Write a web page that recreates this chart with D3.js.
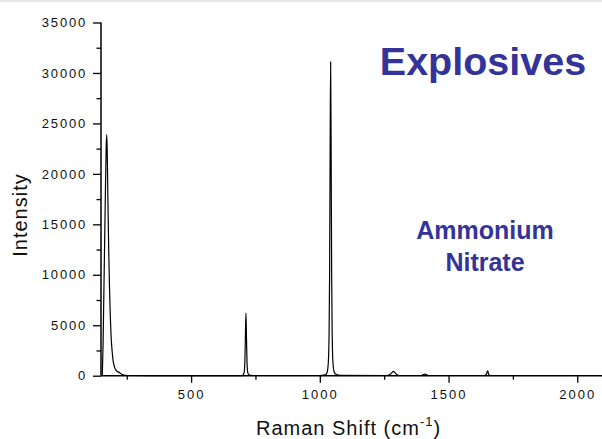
<!DOCTYPE html>
<html>
<head>
<meta charset="utf-8">
<script src="https://cdn.jsdelivr.net/npm/d3@7"></script>
<style>
html,body{margin:0;padding:0;background:#fff;}
svg{display:block;}
</style>
</head>
<body>
<svg id="chart" width="602" height="439"></svg>
<script>
// ---- data ----
const shift = [155,158,161,164,167,170,172,174,176,178,180,183,186,189,193,197,200,204,208,212,216,220,225,230,236,245,260,400,690,700,706,709,711,713,715,717,720,726,740,1000,1020,1028,1033,1036,1038,1040,1042,1044,1046,1048,1051,1056,1064,1080,1260,1270,1280,1286,1292,1300,1310,1395,1402,1408,1414,1420,1640,1647,1652,1656,1662,2100];
const intensity = [0,3000,8000,13000,18000,22500,23900,22500,19000,15500,12400,8800,6000,4000,2500,1500,1100,750,550,450,380,330,250,150,80,40,20,10,15,40,300,1500,4000,6200,4000,1500,300,60,20,20,80,300,1300,4200,10000,22000,31100,22000,10000,4200,1300,350,120,40,20,80,300,420,300,80,20,20,120,160,120,20,20,150,480,150,20,20];
const yTicks = [0,5000,10000,15000,20000,25000,30000,35000];
const yMinor = [2500,7500,12500,17500,22500,27500,32500];
const xTicks = [500,1000,1500,2000];
const xMinor = [250,750,1250,1750];
const xDomain = [150,2100];
const yDomain = [0,35000];
const titleText = "Explosives";
const subtitleLines = ["Ammonium","Nitrate"];

// ---- drawing ----
const svg = d3.select("#chart");
svg.append("rect").attr("x",0).attr("y",0).attr("width",602).attr("height",2).attr("fill","#e6e6e6");

const x = d3.scaleLinear().domain(xDomain).range([101,603]);
const y = d3.scaleLinear().domain(yDomain).range([375.7,22.5]);

const font = "'Liberation Sans', Arial, sans-serif";

// y axis
const yAxis = d3.axisLeft(y).tickValues(yTicks).tickSize(8).tickPadding(6).tickFormat(d3.format("d"));
const gy = svg.append("g").attr("transform","translate(101,0)").call(yAxis);
gy.selectAll(".tick text").attr("font-family",font).attr("font-size",13).attr("letter-spacing","1.8px").attr("fill","#111");
gy.select(".domain").attr("stroke-width",1.5).attr("d","M0,"+y(35000)+"V"+y(0));
gy.selectAll(".tick line").attr("stroke-width",1.3);
const gym = svg.append("g").attr("transform","translate(101,0)").call(d3.axisLeft(y).tickValues(yMinor).tickSize(4.5).tickFormat(""));
gym.select(".domain").remove();
gym.selectAll(".tick line").attr("stroke-width",1.3);

// x axis
const xAxis = d3.axisBottom(x).tickValues(xTicks).tickSize(7).tickPadding(7).tickFormat(d3.format("d"));
const gx = svg.append("g").attr("transform","translate(0,375.7)").call(xAxis);
gx.selectAll(".tick text").attr("font-family",font).attr("font-size",13).attr("letter-spacing","2px").attr("fill","#111");
gx.select(".domain").attr("stroke-width",1.5).attr("d","M101,0H603");
gx.selectAll(".tick line").attr("stroke-width",1.3);
const gxm = svg.append("g").attr("transform","translate(0,375.7)").call(d3.axisBottom(x).tickValues(xMinor).tickSize(4).tickFormat(""));
gxm.select(".domain").remove();
gxm.selectAll(".tick line").attr("stroke-width",1.3);

// spectrum
const pts = shift.map((s,i)=>[s,intensity[i]]);
const line = d3.line().x(d=>x(d[0])).y(d=>y(d[1])).curve(d3.curveMonotoneX);
svg.append("path").datum(pts).attr("d",line).attr("fill","none").attr("stroke","#000").attr("stroke-width",1.2);

// axis titles
svg.append("text").attr("transform","translate(27,215) rotate(-90)").attr("text-anchor","middle")
  .attr("font-family",font).attr("font-size",20).attr("letter-spacing","1px").attr("fill","#111").text("Intensity");
const xl = svg.append("text").attr("x",256).attr("y",435).attr("font-family",font).attr("font-size",20).attr("letter-spacing","1px").attr("fill","#111");
xl.append("tspan").text("Raman Shift (cm");
xl.append("tspan").attr("dy",-9).attr("font-size",13).text("-1");
xl.append("tspan").attr("dy",9).text(")");

// titles
svg.append("text").attr("x",483).attr("y",75).attr("text-anchor","middle").attr("font-family",font)
  .attr("font-weight","bold").attr("font-size",39.5).attr("fill","#333399").text(titleText);
svg.append("text").selectAll("tspan").data(subtitleLines).join("tspan")
  .attr("x",485).attr("y",(d,i)=>238.5+i*32.5).attr("text-anchor","middle").attr("font-family",font)
  .attr("font-weight","bold").attr("font-size",25).attr("fill","#333399").text(d=>d);
</script>
</body>
</html>
